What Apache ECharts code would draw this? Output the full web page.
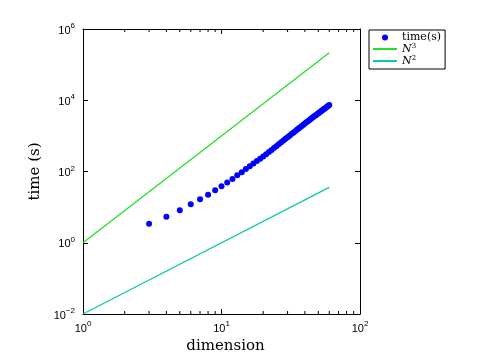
<!DOCTYPE html>
<html><head><meta charset="utf-8">
<script src="https://cdn.jsdelivr.net/npm/echarts@6/dist/echarts.min.js"></script>
<style>html,body{margin:0;padding:0;background:#fff}#c{width:490px;height:362px}</style>
</head><body><div id="c"></div>
<script>
// dimension N for measured timings
var dims = [3,4,5,6,7,8,9,10,11,12,13,14,15,16,17,18,19,20,21,22,23,24,25,26,27,28,29,30,31,32,33,34,35,36,37,38,39,40,41,42,43,44,45,46,47,48,49,50,51,52,53,54,55,56,57,58,59,60];
var times = [3.4,5.4,8.2,12.1,16.7,22.4,29.8,38.7,49,62,79,96,118,141,167,196,228,262,305,352,404,461,523,591,661,740,825,918,1015,1120,1232,1352,1478,1610,1755,1905,2065,2240,2407,2583,2766,2960,3160,3370,3585,3815,4050,4300,4550,4820,5095,5385,5680,5990,6300,6630,6965,7400];
// reference lines
var refN = [1, 60];
var refN3 = [1, 216000];
var refN2 = [0.01, 36];
// x minor tick values (log decades)
var xMinorTicks = [2,3,4,5,6,7,8,9,20,30,40,50,60,70,80,90];
var X_MIN = 1, X_MAX = 100, Y_MIN = 0.01, Y_MAX = 1000000;

function zip(a, b){ return a.map(function(v,i){ return [v, b[i]]; }); }
function powLabel(v){
  var e = Math.round(Math.log10(v));
  return '{b|10}{s|' + (e < 0 ? '\u2212' + (-e) : e) + '}';
}
var tickRich = {
  b: {fontFamily: 'Liberation Sans', fontSize: 11, color: '#000', lineHeight: 14, verticalAlign: 'bottom'},
  s: {fontFamily: 'Liberation Sans', fontSize: 8, color: '#000', lineHeight: 14, verticalAlign: 'top'}
};
var serif = 'DejaVu Serif';
var chart = echarts.init(document.getElementById('c'));
chart.setOption({
  animation: false,
  grid: {left: 83, right: 130, top: 29, bottom: 48, containLabel: false},
  legend: {
    orient: 'vertical', left: 369, top: 30, width: 74,
    backgroundColor: '#fff',
    borderColor: '#000', borderWidth: 1, borderRadius: 0,
    padding: [2, 4, 2, 3], itemGap: 0,
    itemWidth: 24, itemHeight: 6,
    data: [
      {name: 'time(s)', icon: 'circle'},
      {name: 'N3', itemStyle: {opacity: 0}},
      {name: 'N2', itemStyle: {opacity: 0}}
    ],
    formatter: function(n){
      if (n === 'N3') return '{i|N}{s|3}';
      if (n === 'N2') return '{i|N}{s|2}';
      return '{t|time(s)}';
    },
    textStyle: {
      rich: {
        t: {fontFamily: serif, fontSize: 11, color: '#000', lineHeight: 12},
        i: {fontFamily: serif, fontStyle: 'italic', fontSize: 11, color: '#000', lineHeight: 12, verticalAlign: 'bottom'},
        s: {fontFamily: serif, fontSize: 7, color: '#000', lineHeight: 12, verticalAlign: 'top'}
      }
    }
  },
  xAxis: [{
    type: 'log', logBase: 10, min: X_MIN, max: X_MAX,
    name: 'dimension', nameLocation: 'middle', nameGap: 23,
    nameTextStyle: {fontFamily: serif, fontSize: 15, color: '#000', padding: [0,0,0,8]},
    axisLine: {show: true, lineStyle: {color: '#000', width: 1}},
    axisTick: {show: true, inside: true, length: 5, lineStyle: {color: '#000'}},
    axisLabel: {margin: 6, formatter: powLabel, rich: tickRich},
    splitLine: {show: false}
  }, {
    type: 'log', logBase: 10, min: X_MIN, max: X_MAX, position: 'top',
    axisLine: {show: true, onZero: false, lineStyle: {color: '#000', width: 1}},
    axisTick: {show: true, inside: true, length: 5, lineStyle: {color: '#000'}},
    axisLabel: {show: false}, splitLine: {show: false}
  }],
  yAxis: [{
    type: 'log', logBase: 10, min: Y_MIN, max: Y_MAX, interval: 2,
    name: 'time (s)', nameLocation: 'middle', nameGap: 30,
    nameTextStyle: {fontFamily: serif, fontSize: 15, color: '#000'},
    axisLine: {show: true, lineStyle: {color: '#000', width: 1}},
    axisTick: {show: true, inside: true, length: 5, lineStyle: {color: '#000'}},
    axisLabel: {margin: 8, formatter: powLabel, rich: tickRich},
    splitLine: {show: false}
  }, {
    type: 'log', logBase: 10, min: Y_MIN, max: Y_MAX, interval: 2, position: 'right',
    axisLine: {show: true, onZero: false, lineStyle: {color: '#000', width: 1}},
    axisTick: {show: true, inside: true, length: 5, lineStyle: {color: '#000'}},
    axisLabel: {show: false}, splitLine: {show: false}
  }],
  series: [
    {name: 'time(s)', type: 'scatter', symbol: 'circle', symbolSize: 6,
     itemStyle: {color: '#0000ff', opacity: 1}, data: zip(dims, times), z: 3},
    {name: 'N3', type: 'line', symbol: 'none', lineStyle: {color: '#22e022', width: 1.3},
     itemStyle: {color: '#22e022'}, data: zip(refN, refN3)},
    {name: 'N2', type: 'line', symbol: 'none', lineStyle: {color: '#10c8a8', width: 1.3},
     itemStyle: {color: '#10c8a8'}, data: zip(refN, refN2)},
    {name: 'minorTicks', type: 'custom', silent: true, clip: false, z: 5,
     data: xMinorTicks.map(function(v){ return [v]; }),
     encode: {x: 0},
     renderItem: function(params, api){
       var v = api.value(0);
       var b = api.coord([v, Y_MIN]);
       var t = api.coord([v, Y_MAX]);
       var st = {stroke: '#000', lineWidth: 1};
       return {type: 'group', children: [
         {type: 'line', shape: {x1: b[0], y1: b[1], x2: b[0], y2: b[1] - 3}, style: st},
         {type: 'line', shape: {x1: t[0], y1: t[1], x2: t[0], y2: t[1] + 3}, style: st}
       ]};
     }}
  ]
});
</script></body></html>
